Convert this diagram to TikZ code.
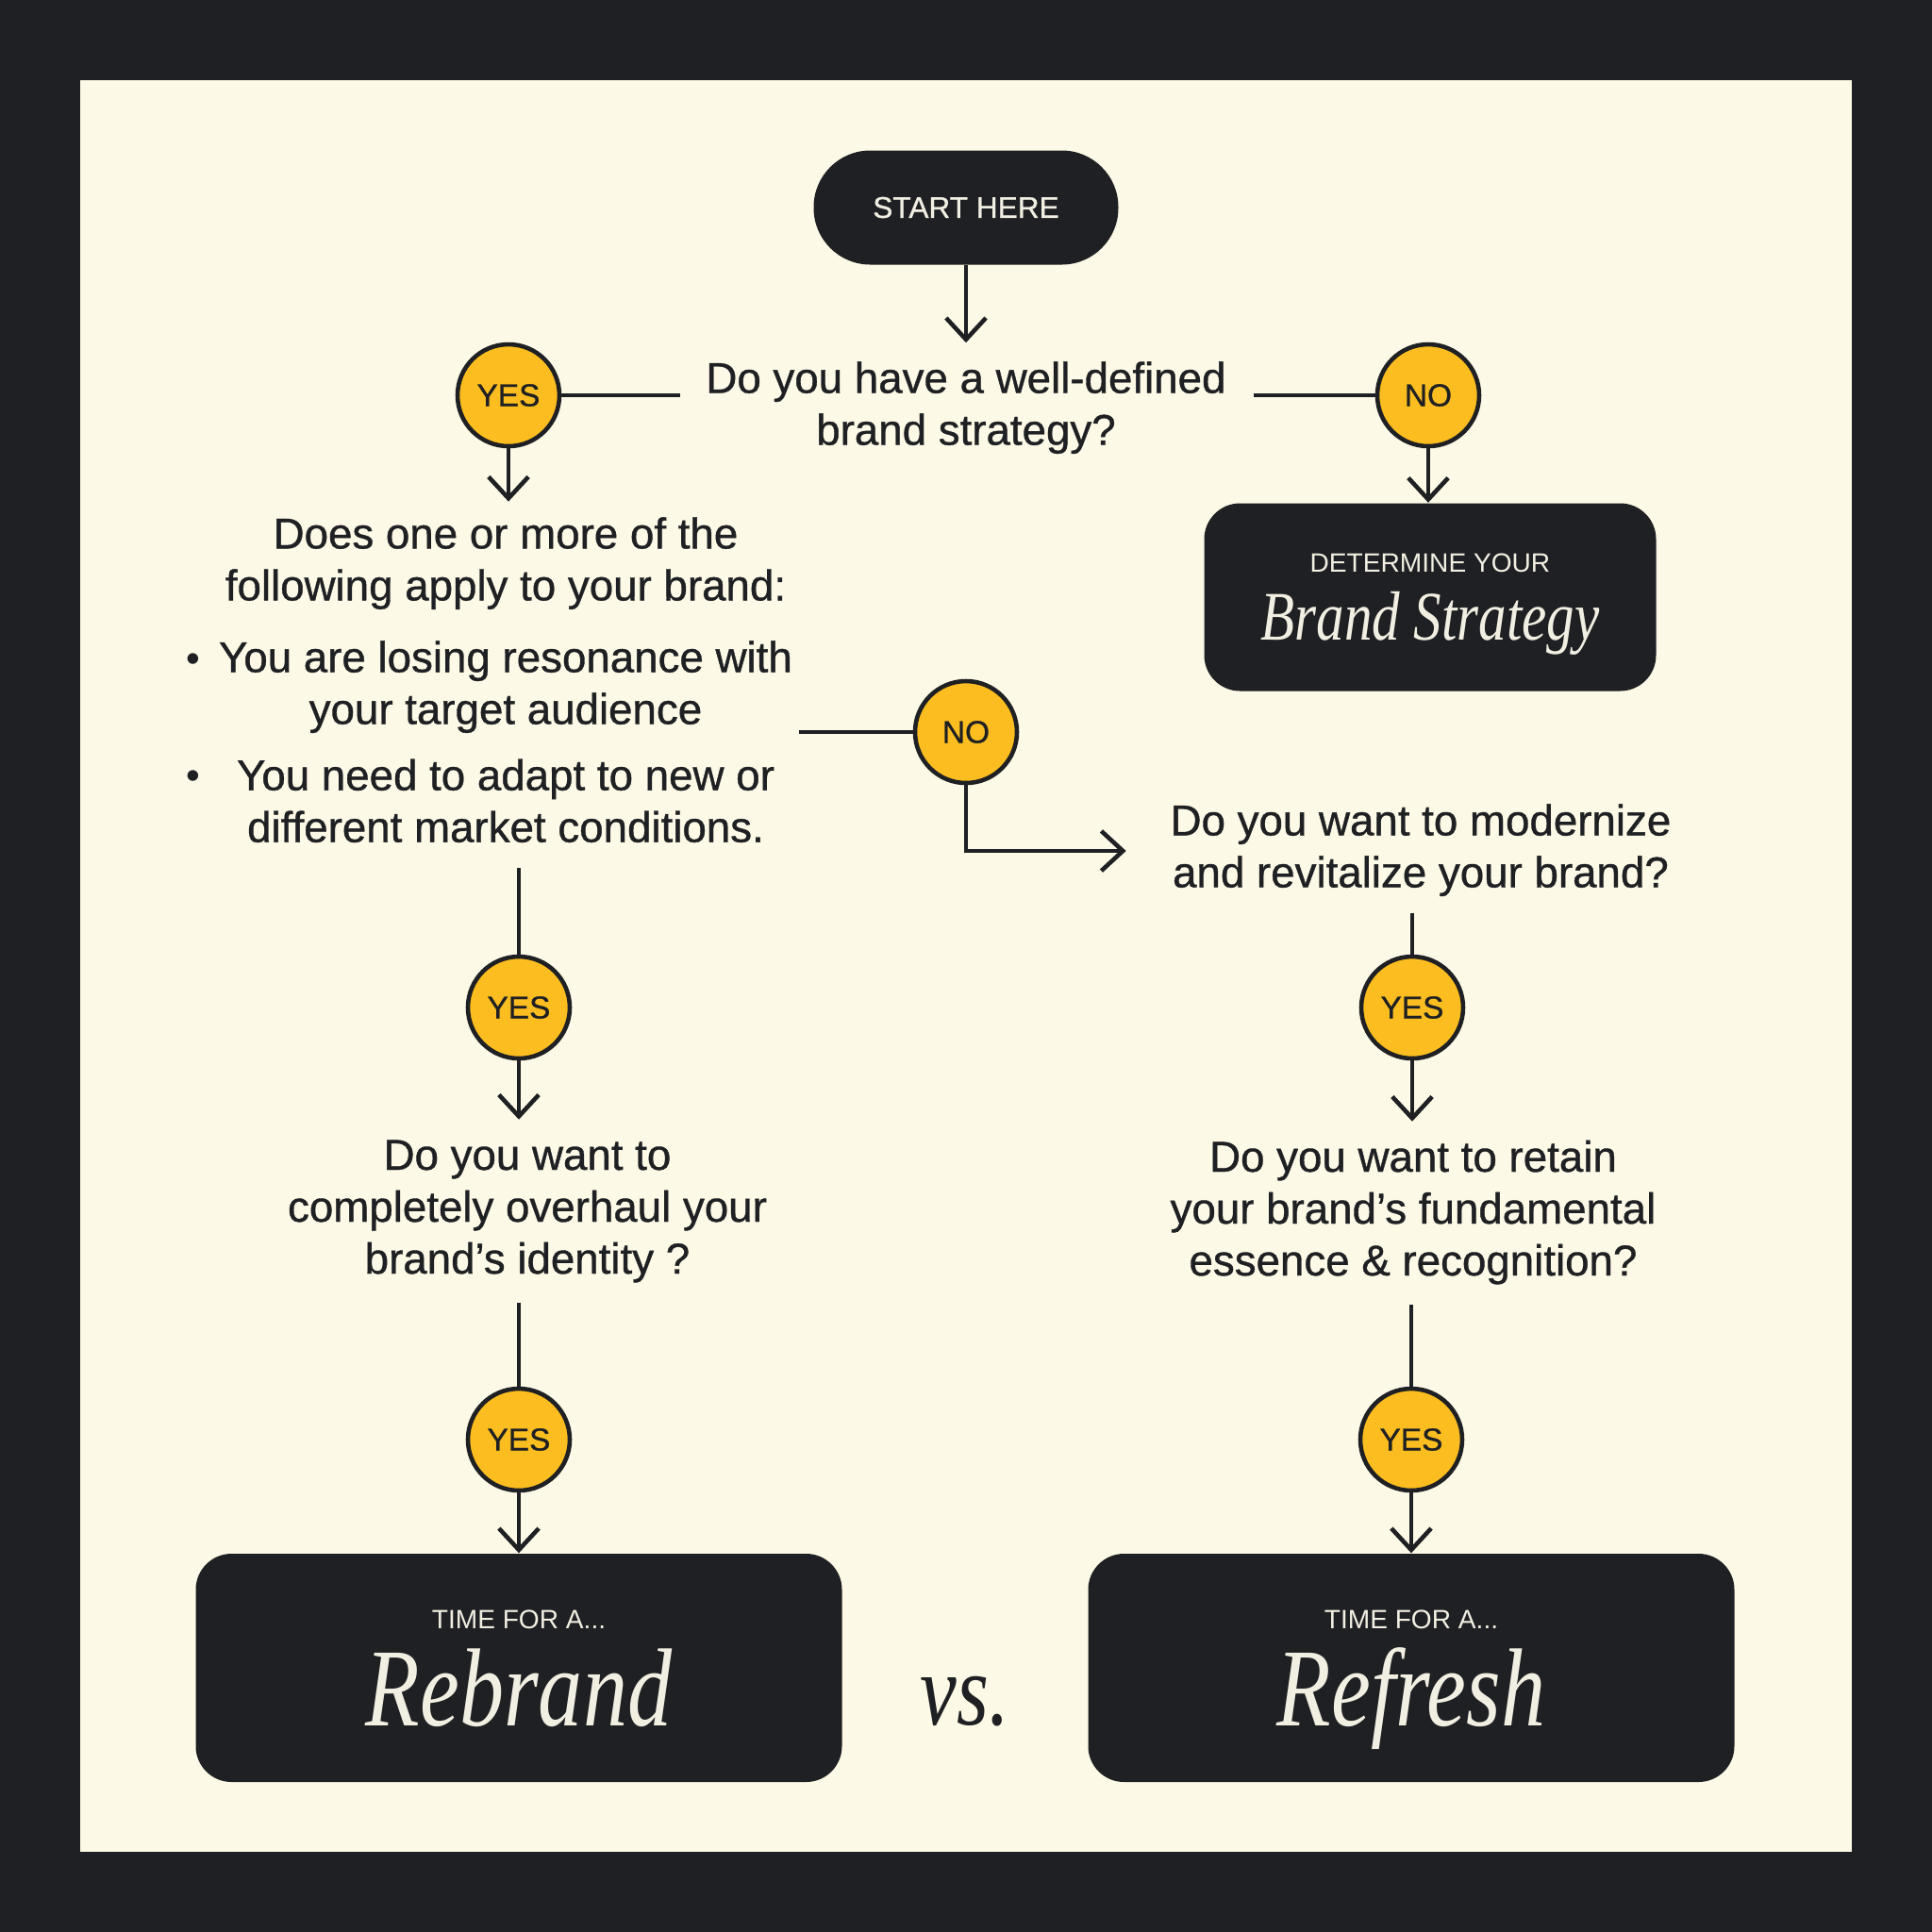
\documentclass[tikz,border=0pt]{standalone}
\usepackage{fontspec}
\setmainfont{Liberation Sans}
\newfontfamily\askfont{Liberation Sans}[FakeBold=0.8]
\newfontfamily\serifdisplay[FakeStretch=0.8]{Liberation Serif}
\usetikzlibrary{arrows.meta}
\definecolor{inkd}{HTML}{1F2023}
\definecolor{creamd}{HTML}{FDF9E7}
\definecolor{goldd}{HTML}{FBBD1F}
\definecolor{paled}{HTML}{F1EEE2}

\begin{document}
\begin{tikzpicture}[x=1cm,y=-1cm,
    wire/.style={line width=1.3pt, draw=inkd},
    arr/.style={wire, -{Straight Barb[length=6.5pt,width=12pt]}},
    answer/.style={circle, draw=inkd, line width=1.3pt, fill=goldd, minimum size=1.08cm,
        inner sep=0pt, text=inkd, font=\askfont\fontsize{9.5}{10}\selectfont},
    ask/.style={align=flush center, inner sep=0pt, text=inkd, font=\askfont\fontsize{13}{15.65}\selectfont,
        execute at begin node=\strut, execute at end node=\strut},
    darkbox/.style={rounded corners=0.38cm, fill=inkd, text=paled, align=center, inner sep=0pt},
    pill/.style={rounded corners=0.6cm, fill=inkd, text=paled, minimum width=3.23cm,
        minimum height=1.21cm, font=\askfont\fontsize{9}{10}\selectfont},
    dotmark/.style={text=inkd, inner sep=0pt, font=\fontsize{12}{12}\selectfont}]
    \useasboundingbox (0,0) rectangle (20.48,20.48);
    \fill[inkd] (0,0) rectangle (20.48,20.48);
    \fill[creamd] (0.85,0.85) rectangle (19.63,19.63);

    \node[pill] (start) at (10.24,2.20) {START HERE};
    \node[ask, text width=5.56cm] (q1) at (10.24,4.33) {Do you have a well-defined\\brand strategy?};
    \node[answer] (y1) at (5.39,4.19) {YES};
    \node[answer] (n1) at (15.14,4.19) {NO};
    \node[darkbox, minimum width=4.79cm, minimum height=1.99cm, font=\fontsize{8}{20.5}\selectfont] (det) at (15.16,6.33)
        {DETERMINE YOUR\\{\serifdisplay\itshape\fontsize{21}{21}\selectfont\raisebox{0pt}[\height][0pt]{Brand Strategy}}};

    \node[ask, text width=6.2cm] (q2) at (5.36,7.26) {Does one or more of the\\following apply to your brand:\\[6pt]You are losing resonance with\\your target audience\\[4.3pt]You need to adapt to new or\\different market conditions.};
    \node[dotmark] (dot1) at (2.05,7.03) {\textbullet};
    \node[dotmark] (dot2) at (2.05,8.27) {\textbullet};
    \node[answer] (n2) at (10.24,7.76) {NO};
    \node[ask, text width=5.6cm] (q3) at (15.06,9.02) {Do you want to modernize\\and revitalize your brand?};

    \node[answer] (y2) at (5.50,10.68) {YES};
    \node[answer] (y3) at (14.97,10.68) {YES};
    \node[ask, text width=5.4cm] (q4) at (5.59,12.84) {Do you want to\\completely overhaul your\\brand’s identity ?};
    \node[ask, text width=5.6cm] (q5) at (14.98,12.86) {Do you want to retain\\your brand’s fundamental\\essence \& recognition?};
    \node[answer] (y4) at (5.50,15.26) {YES};
    \node[answer] (y5) at (14.96,15.26) {YES};

    \node[darkbox, minimum width=6.85cm, minimum height=2.42cm, font=\fontsize{8}{29.3}\selectfont] (rebrand) at (5.50,17.68)
        {TIME FOR A...\\{\serifdisplay\itshape\fontsize{33.5}{33.5}\selectfont\raisebox{0pt}[\height][0pt]{Rebrand}}};
    \node[darkbox, minimum width=6.85cm, minimum height=2.42cm, font=\fontsize{8}{29.3}\selectfont] (refresh) at (14.96,17.68)
        {TIME FOR A...\\{\serifdisplay\itshape\fontsize{33.5}{33.5}\selectfont\raisebox{0pt}[\height][0pt]{Refresh}}};
    \node[text=inkd, inner sep=0pt, font=\serifdisplay\itshape\fontsize{31}{32}\selectfont] (versus) at (10.23,18.04) {vs.};

    \draw[arr, shorten >=4pt] (start.south) -- (start.south |- q1.north);
    \draw[wire, shorten >=7pt] (y1) -- (y1 -| q1.west);
    \draw[wire, shorten <=7.5pt] (n1 -| q1.east) -- (n1);
    \draw[arr, shorten >=3pt] (y1.south) -- (y1.south |- q2.north);
    \draw[arr] (n1.south) -- (n1.south |- det.north);
    \draw[wire] (n2 -| q2.east) -- (n2);
    \draw[arr, shorten >=9pt] (n2.south) |- (q3.west);
    \draw[wire, shorten <=3pt] (y2.north |- q2.south) -- (y2.north);
    \draw[arr, shorten >=4pt] (y2.south) -- (y2.south |- q4.north);
    \draw[wire, shorten <=3pt] (y3.north |- q3.south) -- (y3.north);
    \draw[arr, shorten >=4pt] (y3.south) -- (y3.south |- q5.north);
    \draw[wire, shorten <=4pt] (y4.north |- q4.south) -- (y4.north);
    \draw[arr] (y4.south) -- (rebrand.north);
    \draw[wire, shorten <=4pt] (y5.north |- q5.south) -- (y5.north);
    \draw[arr] (y5.south) -- (refresh.north);
\end{tikzpicture}
\end{document}
